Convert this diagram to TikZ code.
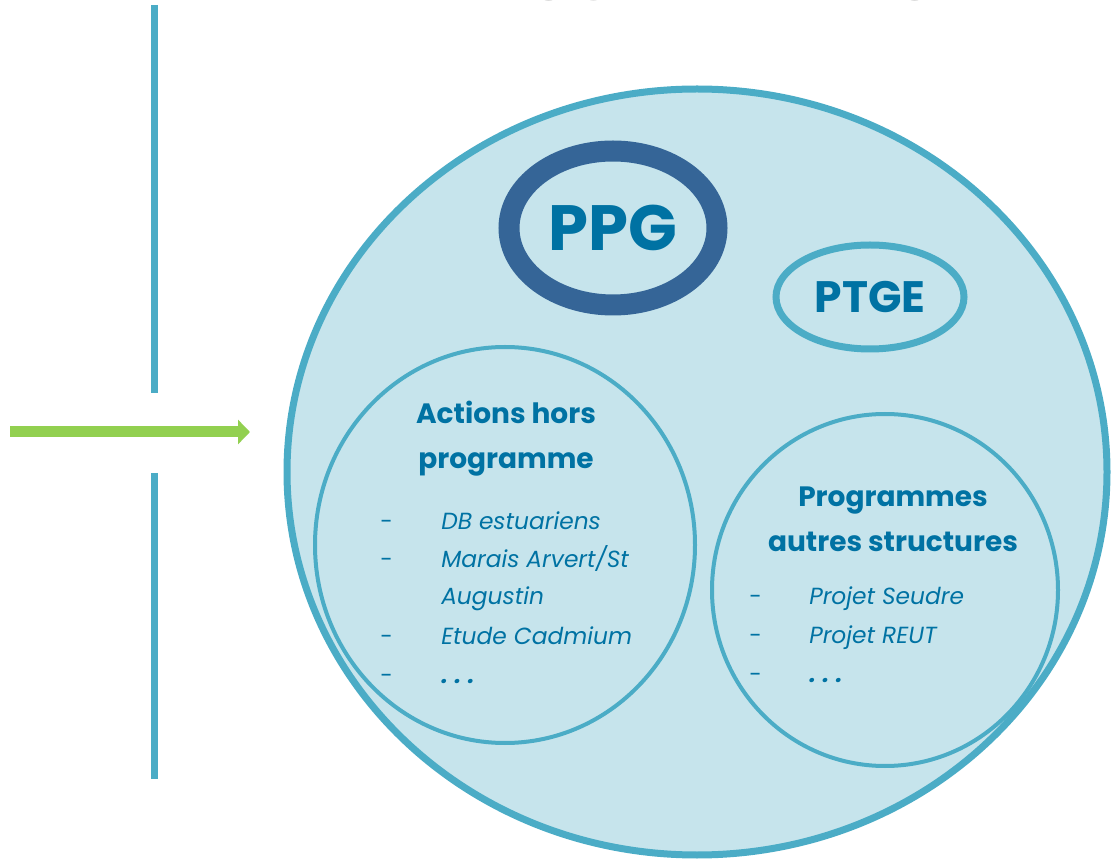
\documentclass[tikz,border=0pt]{standalone}
\usepackage{fontspec}
\setmainfont{Poppins}
\usetikzlibrary{arrows.meta,shapes.geometric}

\definecolor{bleuciel}{RGB}{198,228,236}
\definecolor{bleutrait}{RGB}{75,172,198}
\definecolor{bleutexte}{RGB}{0,114,163}
\definecolor{bleuppg}{RGB}{53,101,151}
\definecolor{vertfleche}{RGB}{146,208,80}
\definecolor{gristitre}{RGB}{166,166,166}

\newcommand{\troispoints}{\textbf{.\hspace{5pt}.\hspace{5pt}.}}

\begin{document}
\begin{tikzpicture}[x=0.75pt,y=-0.75pt,
  cercle/.style={fill=bleuciel,draw=bleutrait,line width=3pt},
  titre/.style={text=bleutexte,font=\bfseries\fontsize{21}{33.75}\selectfont,align=center,inner sep=0pt},
  tiret/.style={text=bleutexte,font=\fontsize{17}{19}\selectfont,anchor=base west,inner sep=0pt},
  item/.style={text=bleutexte,font=\itshape\fontsize{17.5}{19}\selectfont,anchor=base west,inner sep=0pt}]
  \useasboundingbox (0,0) rectangle (1118,862);
  \clip (0,0) rectangle (1118,862);

  % titre coupe en haut
  \node[anchor=base,text=gristitre,font=\bfseries\fontsize{43}{43}\selectfont,inner sep=0pt] (prog) at (717,0.5) {PROGRAMMATION};

  % axe du temps et fleche
  \coordinate (axeA) at (154.5,5);
  \coordinate (axeB) at (154.5,393);
  \coordinate (axeC) at (154.5,473);
  \coordinate (axeD) at (154.5,779);
  \draw[bleutrait,line width=5.25pt] (axeA) -- (axeB);
  \draw[bleutrait,line width=5.25pt] (axeC) -- (axeD);
  \coordinate (depart) at (10,432);
  \coordinate (arrivee) at (250,432);
  \draw[vertfleche,line width=8.25pt,-{Triangle[length=9pt,width=18pt]}] (depart) -- (arrivee);

  % grand cercle
  \draw[cercle,line width=5.25pt] (697,472) ellipse [x radius=410,y radius=383];
  \draw[cercle] (505,545) ellipse [x radius=190,y radius=198];
  \draw[cercle] (885,590) ellipse [x radius=173,y radius=176];

  % PPG et PTGE
  \node[ellipse,draw=bleuppg,line width=15.75pt,minimum width=156pt,minimum height=115.5pt,
        text=bleutexte,font=\bfseries\fontsize{48}{48}\selectfont] (ppg) at (613,228) {PPG};
  \node[ellipse,draw=bleutrait,line width=5.25pt,minimum width=141pt,minimum height=78pt,
        text=bleutexte,font=\bfseries\fontsize{33}{33}\selectfont] (ptge) at (870,297) {PTGE};

  % actions hors programme
  \node[titre] (actions) at (506,439) {Actions hors\\programme};
  \node[tiret] (t1) at (380,530) {-};
  \node[item] (i1) at (441,530) {DB estuariens};
  \node[tiret] (t2) at (380,568) {-};
  \node[item] (i2) at (441,568) {Marais Arvert/St};
  \node[item] (i2b) at (441,605) {Augustin};
  \node[tiret] (t3) at (380,645) {-};
  \node[item] (i3) at (441,645) {Etude Cadmium};
  \node[tiret] (t4) at (380,683) {-};
  \node[item] (i4) at (441,683) {\troispoints};

  % programmes autres structures
  \node[titre] (autres) at (893,519) {Programmes\\autres structures};
  \node[tiret] (u1) at (749,605) {-};
  \node[item] (j1) at (809,605) {Projet Seudre};
  \node[tiret] (u2) at (749,643) {-};
  \node[item] (j2) at (809,643) {Projet REUT};
  \node[tiret] (u3) at (749,682) {-};
  \node[item] (j3) at (809,682) {\troispoints};
\end{tikzpicture}
\end{document}
